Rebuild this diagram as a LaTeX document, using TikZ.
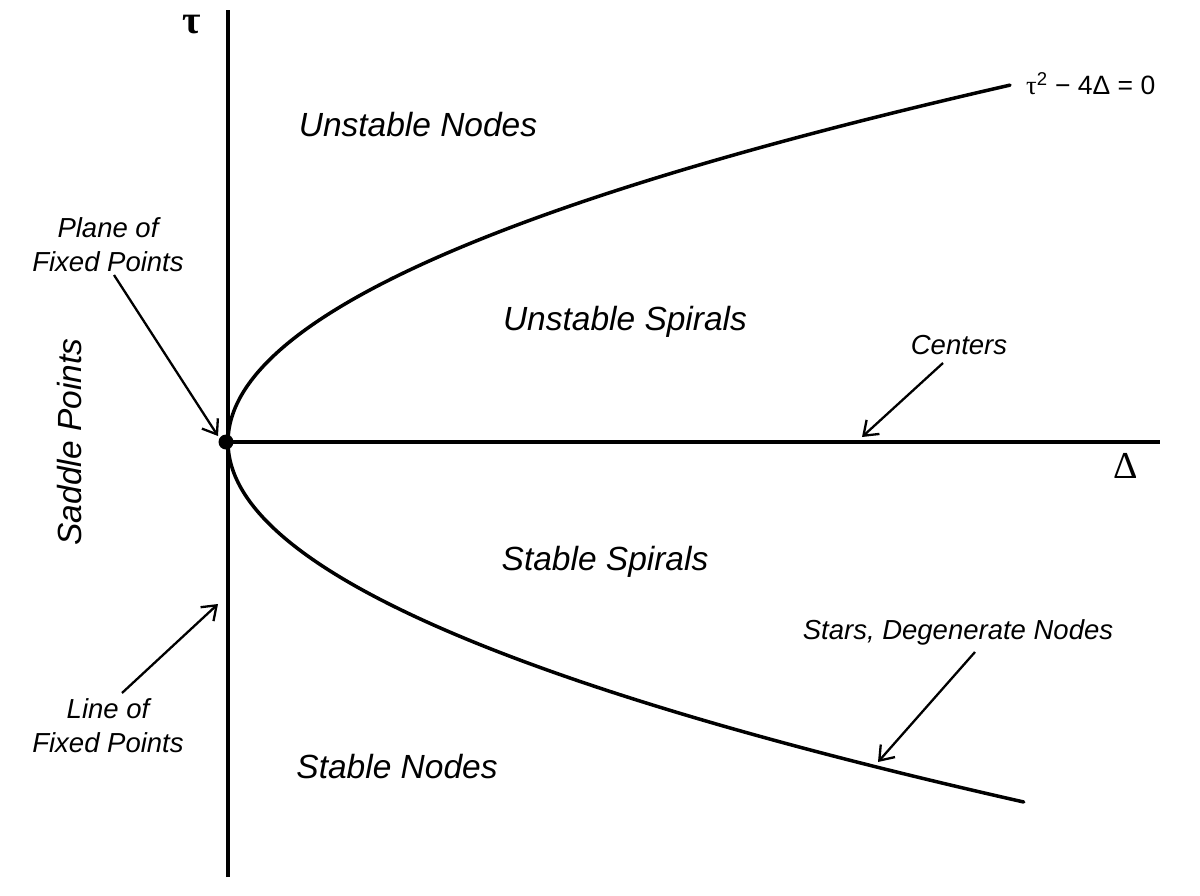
\documentclass[tikz,border=0pt]{standalone}
\usepackage{fontspec}
\setmainfont{Liberation Sans}
\newfontfamily\serifgr{Liberation Serif}
\usetikzlibrary{arrows.meta}
\begin{document}
\begin{tikzpicture}[x=1pt,y=-1pt,
  axisline/.style={line width=3.2pt},
  curveline/.style={line width=3.5pt,line cap=round},
  pointer/.style={line width=2.3pt,-{Straight Barb[length=13pt,width=19pt,line width=2.3pt]}},
  region/.style={font=\fontsize{33.5}{40}\selectfont\itshape,inner sep=0pt},
  note/.style={font=\fontsize{27.5}{34}\selectfont\itshape,align=center,inner sep=0pt},
]
\useasboundingbox[fill=white] (0,0) rectangle (1200,895);

% axes
\coordinate (ytop) at (228,10);
\coordinate (ybot) at (228,877);
\coordinate (xend) at (1160,442);
\draw[axisline] (ybot) -- (ytop);
\node[circle,fill,inner sep=0pt,minimum size=15pt] (o) at (226,442) {};
\draw[axisline] (o.center) -- (xend);

% axis labels
\node[font=\serifgr\bfseries\fontsize{40}{42}\selectfont,inner sep=0pt] (tau) at (192,25) {τ};
\node[font=\serifgr\fontsize{38}{40}\selectfont,inner sep=0pt] (delta) at (1126,466) {Δ};

% parabola tau^2 - 4 Delta = 0
\draw[curveline] plot[domain=-3.60:3.57,samples=120,smooth] ({228+61.4*\x*\x},{442-100*\x});
\node[anchor=west,font=\fontsize{26.5}{30}\selectfont,inner sep=0pt] (eq) at (1026,84) {{\serifgr τ}\textsuperscript{2} − 4Δ = 0};

% region labels
\node[region] (un) at (418,125) {Unstable Nodes};
\node[region] (us) at (625,322) {Unstable Spirals};
\node[region] (ss) at (605,562) {Stable Spirals};
\node[region] (sn) at (397,767) {Stable Nodes};
\node[region,rotate=90] (sp) at (70,442) {Saddle Points};

% notes
\node[note] (plane) at (108,245) {Plane of\\Fixed Points};
\node[note] (line) at (108,726) {Line of\\Fixed Points};
\node[note] (cent) at (959,345) {Centers};
\node[note] (stars) at (958,632) {Stars, Degenerate Nodes};

% pointer ends
\coordinate (p1s) at (114,275);
\coordinate (p1e) at (218,436);
\coordinate (p2s) at (122,693);
\coordinate (p2e) at (218,604);
\coordinate (p3s) at (943,363);
\coordinate (p3e) at (862,437);
\coordinate (p4s) at (975,652);
\coordinate (p4e) at (878,762);
\draw[pointer] (p1s) -- (p1e);
\draw[pointer] (p2s) -- (p2e);
\draw[pointer] (p3s) -- (p3e);
\draw[pointer] (p4s) -- (p4e);
\end{tikzpicture}
\end{document}
